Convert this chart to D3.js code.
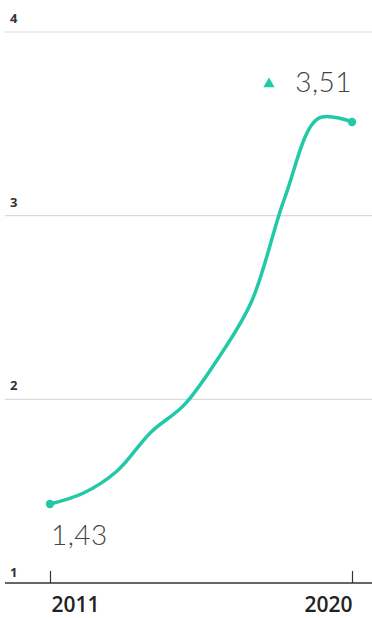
<!DOCTYPE html>
<html>
<head>
<meta charset="utf-8">
<script src="https://cdn.jsdelivr.net/npm/d3@7"></script>
<style>
  html, body { margin: 0; padding: 0; background: #fff; }
  svg { display: block; }
</style>
</head>
<body>
<svg id="chart" width="372" height="618"></svg>
<script>
const years = [2011, 2012, 2013, 2014, 2015, 2016, 2017, 2018, 2019, 2020];
const values = [1.43, 1.49, 1.61, 1.82, 1.97, 2.22, 2.53, 3.10, 3.53, 3.51];
const yTicks = [1, 2, 3, 4];
const xTickLabels = [2011, 2020];
const startLabel = "1,43";
const endLabel = "3,51";

const svg = d3.select("#chart");
const W = 372, H = 618;

const x = d3.scaleLinear().domain([2011, 2020]).range([50, 352]);
const y = d3.scaleLinear().domain([1, 4]).range([583, 32]);

// gridlines
svg.append("g").selectAll("line")
  .data(yTicks.filter(d => d !== 1))
  .join("line")
  .attr("x1", 5).attr("x2", W)
  .attr("y1", d => y(d)).attr("y2", d => y(d))
  .attr("stroke", "#d9d9d9").attr("stroke-width", 1.2);

// y labels
svg.append("g").selectAll("text")
  .data(yTicks)
  .join("text")
  .attr("x", 10)
  .attr("y", d => y(d) - (d === 1 ? 6 : 9))
  .attr("font-family", "Open Sans, sans-serif")
  .attr("font-size", 13)
  .attr("font-weight", 700)
  .attr("fill", "#333")
  .text(d => d);

// x axis
const xAxis = d3.axisBottom(x).tickValues(xTickLabels).tickFormat(d3.format("d")).tickSize(0).tickPadding(16);
const gx = svg.append("g").attr("transform", `translate(0,${y(1)})`).call(xAxis);
gx.select(".domain").remove();
gx.append("line").attr("x1", 5).attr("x2", W).attr("y1", 0).attr("y2", 0)
  .attr("stroke", "#333").attr("stroke-width", 1.5);
gx.selectAll(".tick").append("line").attr("y1", 0).attr("y2", -12)
  .attr("stroke", "#333").attr("stroke-width", 1.2);
gx.selectAll(".tick text")
  .attr("font-family", "Open Sans, sans-serif")
  .attr("font-size", 21)
  .attr("font-weight", 600)
  .attr("fill", "#222")
  .attr("dy", "0")
  .attr("y", 29)
  .attr("x", (d, i) => i === 0 ? 1 : 0)
  .attr("text-anchor", (d, i) => i === 0 ? "start" : "end");

// line
const data = years.map((yr, i) => ({ yr, v: values[i] }));
const line = d3.line().x(d => x(d.yr)).y(d => y(d.v)).curve(d3.curveCatmullRom.alpha(0.5));
const teal = "#22c9a6";
svg.append("path").datum(data)
  .attr("d", line)
  .attr("fill", "none")
  .attr("stroke", teal)
  .attr("stroke-width", 3.5)
  .attr("stroke-linecap", "round");

// end dots
svg.append("g").selectAll("circle")
  .data([data[0], data[data.length - 1]])
  .join("circle")
  .attr("cx", d => x(d.yr)).attr("cy", d => y(d.v))
  .attr("r", 4.2).attr("fill", teal);

// value labels
svg.append("text")
  .attr("x", x(2011) + 1)
  .attr("y", 545)
  .attr("font-family", "Lato, sans-serif")
  .attr("font-weight", 300)
  .attr("font-size", 28)
  .attr("letter-spacing", 0.5)
  .attr("fill", "#444")
  .text(startLabel);

svg.append("text")
  .attr("x", x(2020))
  .attr("y", 92)
  .attr("text-anchor", "end")
  .attr("font-family", "Lato, sans-serif")
  .attr("font-weight", 300)
  .attr("font-size", 28)
  .attr("letter-spacing", 0.5)
  .attr("fill", "#444")
  .text(endLabel);

// triangle marker
svg.append("path")
  .attr("d", d3.symbol().type(d3.symbolTriangle).size(55)())
  .attr("transform", `translate(269,84)`)
  .attr("fill", teal);
</script>
</body>
</html>
